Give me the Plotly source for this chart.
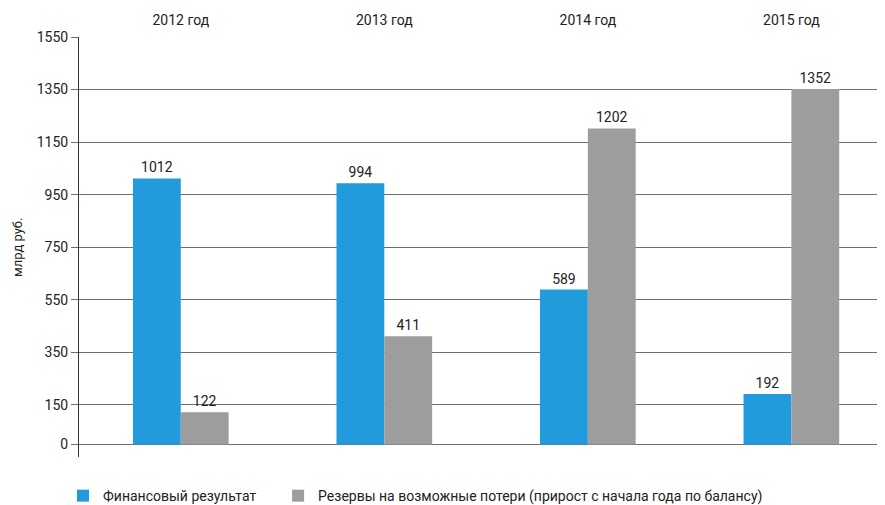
import plotly.graph_objects as go

categories = ["2012 год", "2013 год", "2014 год", "2015 год"]
fin_result = [1012, 994, 589, 192]
reserves = [122, 411, 1202, 1352]
y_ticks = [0, 150, 350, 550, 750, 950, 1150, 1350, 1550]
y_title = "млрд руб."

FONT = "Roboto, Arial, sans-serif"

fig = go.Figure()
fig.add_trace(go.Bar(
    x=categories, y=fin_result, name="Финансовый результат",
    marker=dict(color="#229bdd", line=dict(width=0)),
    text=[str(v) for v in fin_result], textposition="outside",
    textfont=dict(size=14, color="#222222", family=FONT), cliponaxis=False,
    legend="legend",
))
fig.add_trace(go.Bar(
    x=categories, y=reserves, name="Резервы на возможные потери (прирост с начала года по балансу)",
    marker=dict(color="#9d9d9d", line=dict(width=0)),
    text=[str(v) for v in reserves], textposition="outside",
    textfont=dict(size=14, color="#222222", family=FONT), cliponaxis=False,
    legend="legend2",
))

leg_common = dict(orientation="h", xref="container", yref="container",
                  y=0.018, xanchor="left", yanchor="middle",
                  font=dict(size=14, family=FONT, color="#222222"),
                  itemwidth=30, bgcolor="rgba(0,0,0,0)")

# page body adds an 8px offset; size the figure so it fills the 885x505 window
fig.update_layout(
    width=877, height=497,
    margin=dict(l=71, r=0, t=29, b=48, autoexpand=False),
    paper_bgcolor="white", plot_bgcolor="white",
    font=dict(family=FONT, size=14, color="#222222"),
    barmode="group", bargap=0.53, bargroupgap=0,
    showlegend=True,
    legend=dict(x=0.0627, **leg_common),
    legend2=dict(x=0.308, **leg_common),
    xaxis=dict(side="top", showgrid=False, showline=False, ticks="",
               automargin=False, ticklabelstandoff=8, range=[-0.5, 3.46],
               tickfont=dict(size=14, family=FONT, color="#222222"),
               zeroline=False),
    yaxis=dict(range=[-48, 1550], tickvals=y_ticks,
               ticktext=[str(v) for v in y_ticks], automargin=False,
               showgrid=True, gridcolor="#6e6e6e", gridwidth=1,
               zeroline=False,
               showline=True, linecolor="#333333", linewidth=1,
               ticks="outside", ticklen=7, tickcolor="#6e6e6e",
               tickfont=dict(size=14, family=FONT, color="#222222")),
    annotations=[dict(text=y_title, textangle=-90, showarrow=False,
                      xref="paper", yref="paper", x=-0.077, y=0.5,
                      xanchor="center", yanchor="middle",
                      font=dict(size=13, family=FONT, color="#222222"))],
)

fig.write_html("out.html")
